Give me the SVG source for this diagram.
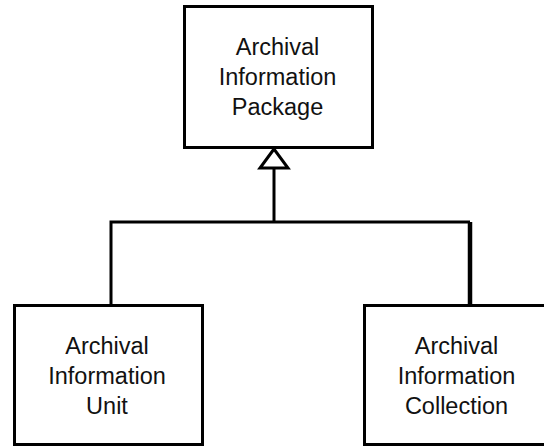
<svg xmlns="http://www.w3.org/2000/svg" width="544" height="446" viewBox="0 0 544 446">
<style>
.box{fill:#fff;stroke:#000;stroke-width:3}
.lbl{font-family:"Liberation Sans",Arial,Helvetica,sans-serif;font-size:23.5px;fill:#111;text-anchor:middle}
.conn{fill:none;stroke:#000;stroke-width:3}
</style>
<rect width="544" height="446" fill="#fff"/>
<g id="connectors">
<polyline class="conn" points="111,305 111,222 470,222"/>
<line class="conn" x1="470" y1="222" x2="470" y2="305" style="stroke-width:4.5"/>
<line class="conn" x1="274" y1="222" x2="274" y2="168"/>
<polygon class="conn" points="274,149 260,168 288,168" style="fill:#fff"/>
</g>
<g id="aip">
<rect class="box" x="184.5" y="6.5" width="188" height="141"/>
<text class="lbl" x="277.5" y="55">Archival</text>
<text class="lbl" x="277.5" y="85">Information</text>
<text class="lbl" x="277.5" y="115">Package</text>
</g>
<g id="aiu">
<rect class="box" x="14.5" y="305.5" width="188" height="139"/>
<text class="lbl" x="107" y="354">Archival</text>
<text class="lbl" x="107" y="384">Information</text>
<text class="lbl" x="107" y="414">Unit</text>
</g>
<g id="aic">
<rect class="box" x="364.5" y="305.5" width="188" height="139"/>
<text class="lbl" x="456.5" y="354">Archival</text>
<text class="lbl" x="456.5" y="384">Information</text>
<text class="lbl" x="456.5" y="414">Collection</text>
</g>
</svg>
